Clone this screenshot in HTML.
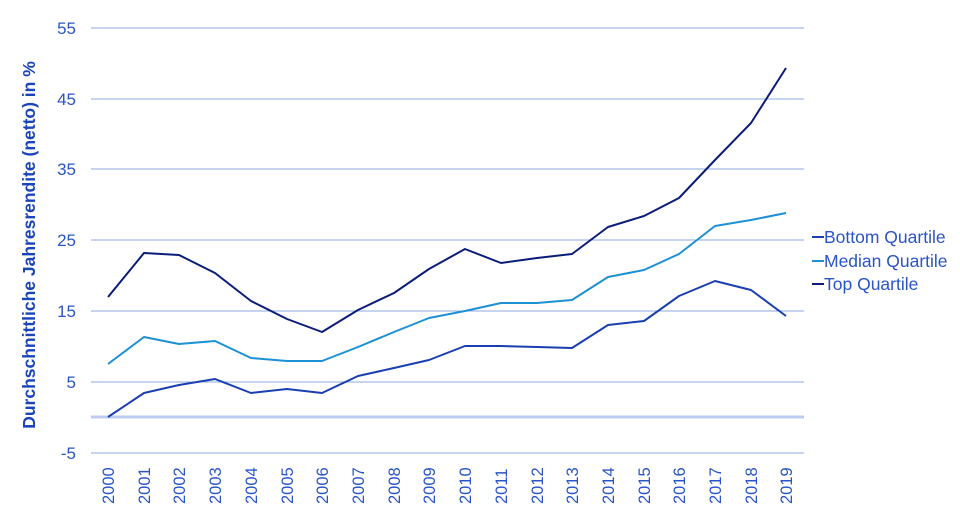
<!DOCTYPE html>
<html><head><meta charset="utf-8"><style>body{margin:0;background:#fff}svg{display:block;font-family:"Liberation Sans",sans-serif}</style></head><body>
<svg width="960" height="522" viewBox="0 0 960 522" xmlns="http://www.w3.org/2000/svg">
<g stroke="#8eaae2" stroke-width="1">
<line x1="91" x2="804" y1="28" y2="28"/><line x1="91" x2="804" y1="99" y2="99"/><line x1="91" x2="804" y1="169" y2="169"/><line x1="91" x2="804" y1="240" y2="240"/><line x1="91" x2="804" y1="311" y2="311"/><line x1="91" x2="804" y1="382" y2="382"/><line x1="91" x2="804" y1="453" y2="453"/>
</g>
<line x1="91" x2="804" y1="417" y2="417" stroke="#bccdf0" stroke-width="3"/>
<g fill="#2a55c8" font-size="17" text-anchor="end">
<text x="76" y="34">55</text><text x="76" y="105">45</text><text x="76" y="175">35</text><text x="76" y="246">25</text><text x="76" y="317">15</text><text x="76" y="388">5</text><text x="76" y="459">-5</text>
</g>
<g fill="#2a55c8" font-size="16.5">
<text transform="translate(114,504) rotate(-90)">2000</text><text transform="translate(150,504) rotate(-90)">2001</text><text transform="translate(185,504) rotate(-90)">2002</text><text transform="translate(221,504) rotate(-90)">2003</text><text transform="translate(257,504) rotate(-90)">2004</text><text transform="translate(293,504) rotate(-90)">2005</text><text transform="translate(328,504) rotate(-90)">2006</text><text transform="translate(364,504) rotate(-90)">2007</text><text transform="translate(400,504) rotate(-90)">2008</text><text transform="translate(435,504) rotate(-90)">2009</text><text transform="translate(471,504) rotate(-90)">2010</text><text transform="translate(507,504) rotate(-90)">2011</text><text transform="translate(543,504) rotate(-90)">2012</text><text transform="translate(578,504) rotate(-90)">2013</text><text transform="translate(614,504) rotate(-90)">2014</text><text transform="translate(650,504) rotate(-90)">2015</text><text transform="translate(685,504) rotate(-90)">2016</text><text transform="translate(721,504) rotate(-90)">2017</text><text transform="translate(757,504) rotate(-90)">2018</text><text transform="translate(792,504) rotate(-90)">2019</text>
</g>
<text transform="translate(35,245) rotate(-90)" text-anchor="middle" fill="#1a44b8" font-size="17.5" font-weight="bold">Durchschnittliche Jahresrendite (netto) in %</text>
<g fill="none" stroke-width="2" stroke-linejoin="round">
<polyline stroke="#0c1c7a" points="108,297 144,253 179,255 215,273 251,301 287,319 322,332 358,310 394,293 429,269 465,249 501,263 537,258 572,254 608,227 644,216 679,198 715,160 751,123 786,68"/>
<polyline stroke="#1e90d6" points="108,364 144,337 179,344 215,341 251,358 287,361 322,361 358,347 394,332 429,318 465,311 501,303 537,303 572,300 608,277 644,270 679,254 715,226 751,220 786,213"/>
<polyline stroke="#1a3fb0" points="108,417 144,393 179,385 215,379 251,393 287,389 322,393 358,376 394,368 429,360 465,346 501,346 537,347 572,348 608,325 644,321 679,296 715,281 751,290 786,316"/>
</g>
<g font-size="17.5" fill="#2a55c8">
<line x1="812" x2="824" y1="237" y2="237" stroke="#1a3fb0" stroke-width="2"/><text x="824" y="243">Bottom Quartile</text>
<line x1="812" x2="824" y1="261" y2="261" stroke="#1e90d6" stroke-width="2"/><text x="824" y="267">Median Quartile</text>
<line x1="812" x2="824" y1="284" y2="284" stroke="#0c1c7a" stroke-width="2"/><text x="824" y="290">Top Quartile</text>
</g>
</svg>
</body></html>
